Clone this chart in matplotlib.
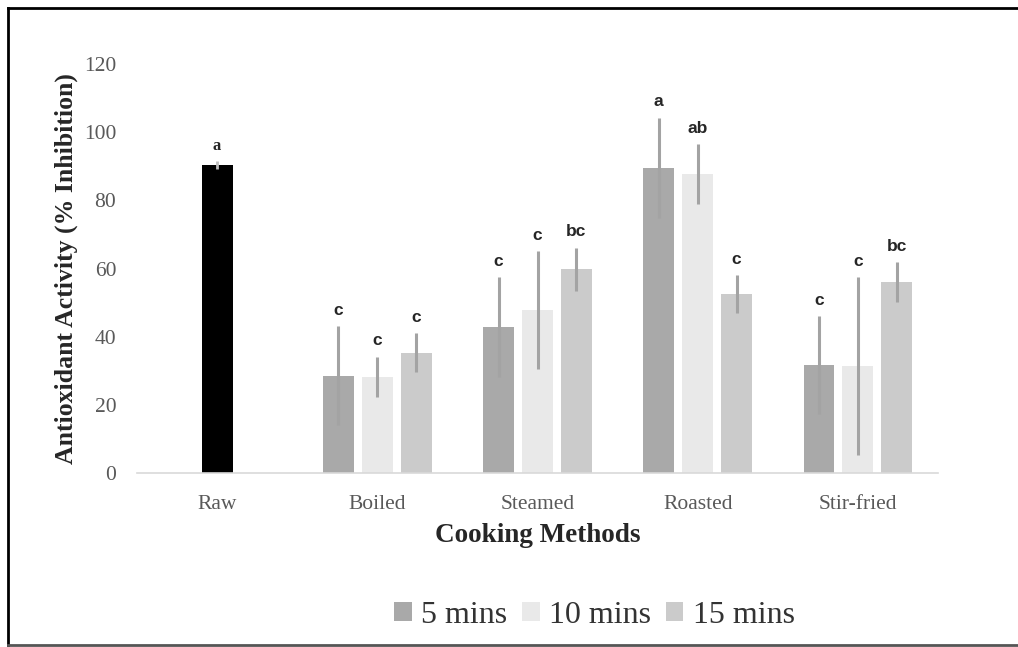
import matplotlib
matplotlib.use("Agg")
import matplotlib.pyplot as plt
from matplotlib.lines import Line2D
from matplotlib.patches import Patch
import numpy as np

categories = ["Raw", "Boiled", "Steamed", "Roasted", "Stir-fried"]
series_names = ["5 mins", "10 mins", "15 mins"]

raw_value = 90.3
raw_err = 1.2
raw_letter = "a"

# Boiled, Steamed, Roasted, Stir-fried
vals_5 = [28.5, 42.8, 89.6, 31.7]
err_5 = [14.5, 14.7, 14.7, 14.3]
let_5 = ["c", "c", "a", "c"]

vals_10 = [28.2, 47.8, 87.6, 31.4]
err_10 = [5.9, 17.2, 8.8, 26.0]
let_10 = ["c", "c", "ab", "c"]

vals_15 = [35.3, 59.8, 52.4, 56.0]
err_15 = [5.7, 6.3, 5.6, 5.8]
let_15 = ["c", "bc", "c", "bc"]

colors = ["#a9a9a9", "#e9e9e9", "#cbcbcb"]
err_color = "#a3a3a3"
serif = ["Liberation Serif", "DejaVu Serif"]
sans = ["Liberation Sans", "DejaVu Sans"]

fig = plt.figure(figsize=(10.18, 6.47), dpi=100)
ax = fig.add_axes([0.1346, 0.2689, 0.7868, 0.6322])

width = 0.193
step = 0.243
x_groups = np.arange(1, 5)

# Raw bar
ax.bar([0], [raw_value], width=width, color="black", zorder=2)
ax.errorbar([0], [raw_value], yerr=[raw_err], fmt="none", ecolor="#bfbfbf",
            elinewidth=2, capsize=0, zorder=3)
ax.annotate(raw_letter, (0, raw_value + raw_err), xytext=(0, 11),
            textcoords="offset points", ha="center", va="center",
            fontsize=12, fontweight="bold", family=serif, color="#262626")

all_vals = [vals_5, vals_10, vals_15]
all_errs = [err_5, err_10, err_15]
all_lets = [let_5, let_10, let_15]
for i, (v, e, l) in enumerate(zip(all_vals, all_errs, all_lets)):
    xs = x_groups + (i - 1) * step
    ax.bar(xs, v, width=width, color=colors[i], label=series_names[i], zorder=2)
    ax.errorbar(xs, v, yerr=e, fmt="none", ecolor=err_color, elinewidth=2.2,
                capsize=0, zorder=3)
    for xx, vv, ee, ll in zip(xs, v, e, l):
        ax.annotate(ll, (xx, vv + ee), xytext=(0, 11.5),
                    textcoords="offset points", ha="center", va="center",
                    fontsize=12.5, fontweight="bold", family=sans, color="#262626")

ax.set_xlim(-0.5, 4.5)
ax.set_ylim(0, 120)
ax.set_yticks(np.arange(0, 121, 20))
ax.set_xticks(np.arange(5))
ax.set_xticklabels(categories)
for s in ["top", "right", "left"]:
    ax.spines[s].set_visible(False)
ax.spines["bottom"].set_color("#d9d9d9")
ax.spines["bottom"].set_linewidth(1.2)
ax.tick_params(axis="both", length=0, labelsize=15.5, labelcolor="#595959")
ax.tick_params(axis="y", pad=15)
ax.tick_params(axis="x", pad=15.5)
for lab in ax.get_xticklabels() + ax.get_yticklabels():
    lab.set_family(serif)

ax.set_ylabel("Antioxidant Activity (% Inhibition)", fontsize=18.5, fontweight="bold",
              family=serif, color="#262626", labelpad=4)
ax.set_xlabel("Cooking Methods", fontsize=19.5, fontweight="bold", family=serif,
              color="#262626", labelpad=7)

handles = [Patch(facecolor=colors[i], label=series_names[i]) for i in range(3)]
leg = fig.legend(handles=handles, loc="center", bbox_to_anchor=(0.584, 0.049),
                 ncol=3, frameon=False, handlelength=0.55, handleheight=0.55,
                 handletextpad=0.3, columnspacing=0.45,
                 prop={"family": serif, "size": 23})
for t in leg.get_texts():
    t.set_color("#333333")

# figure border (left, top, bottom)
lw = 2
fig.add_artist(Line2D([8/1018, 8/1018], [2/647, 639/647], color="black", lw=lw,
                      transform=fig.transFigure))
fig.add_artist(Line2D([8/1018, 1.0], [639/647, 639/647], color="black", lw=lw,
                      transform=fig.transFigure))
fig.add_artist(Line2D([8/1018, 1.0], [2/647, 2/647], color="#555555", lw=lw,
                      transform=fig.transFigure))

fig.savefig("out.png", dpi=100, facecolor="white")
